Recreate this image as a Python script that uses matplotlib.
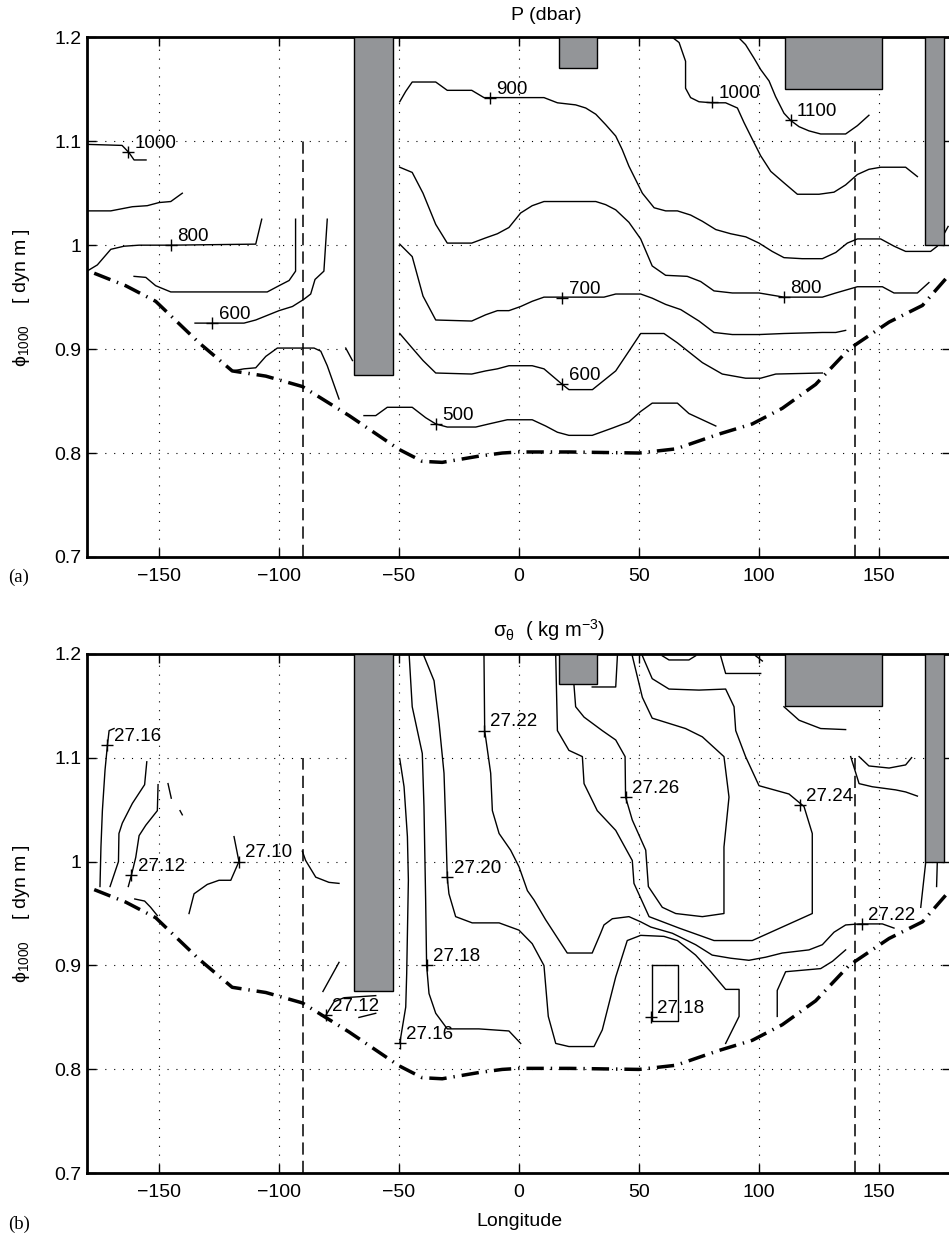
import matplotlib.pyplot as plt
from matplotlib.patches import Rectangle

plt.rcParams['font.family'] = ['Liberation Sans', 'DejaVu Sans']
plt.rcParams['mathtext.fontset'] = 'custom'
plt.rcParams['mathtext.rm'] = 'Liberation Sans'
plt.rcParams['mathtext.default'] = 'regular'

# axis ticks
lon_ticks = [-150, -100, -50, 0, 50, 100, 150]
phi_ticks = [0.7, 0.8, 0.9, 1.0, 1.1, 1.2]
phi_tick_labels = ['0.7', '0.8', '0.9', '1', '1.1', '1.2']

# land / topography boxes (lon0, lon1, bottom phi; they reach the top)
box_lon0 = [-68.7, 16.7, 110.8, 169.3]
box_lon1 = [-52.5, 32.6, 151.4, 177.0]
box_phi0 = [0.8755, 1.1705, 1.150, 1.000]

# sections (dashed verticals)
section_lon = [-90, 140]

# outcrop / lower boundary (dash-dot)
bound_lon = [-177, -163.9, -151.4, -133.3, -119.5, -105.5, -90.3, -70.8, -50, -40.3, -32,
             -16.7, -7, 0, 21, 50, 65.4, 83, 97.2, 109.7, 123.6, 137.5, 154.2, 168.1, 178.7]
bound_phi = [0.973, 0.961, 0.946, 0.906, 0.879, 0.874, 0.864, 0.836, 0.8035, 0.792, 0.791,
             0.797, 0.800, 0.801, 0.801, 0.800, 0.804, 0.818, 0.828, 0.843, 0.866, 0.900, 0.926, 0.942, 0.970]

# ---------------- panel (a): pressure contours ----------------
p1000w_lon = [-180, -165.4, -162.5, -160.4, -155.4]
p1000w_phi = [1.097, 1.096, 1.089, 1.082, 1.082]
p900w_lon = [-180, -170.1, -161.1, -154.9, -150.0, -145.1, -140.3]
p900w_phi = [1.033, 1.033, 1.037, 1.038, 1.041, 1.042, 1.050]
p800w_lon = [-180, -175.7, -170.1, -164.6, -158.3, -145.1, -109.7, -107.2]
p800w_phi = [0.975, 0.981, 0.996, 0.999, 1.000, 1.000, 1.001, 1.025]
p700w_lon = [-160.4, -155.5, -151.4, -145.1, -104.9, -100.0, -95.8, -93.1, -93.1]
p700w_phi = [0.970, 0.969, 0.961, 0.955, 0.955, 0.961, 0.966, 0.975, 1.025]
p600w_lon = [-135.0, -114.6, -109.7, -100.0, -94.4, -89.6, -86.8, -85.0, -81.3, -79.9]
p600w_phi = [0.925, 0.925, 0.928, 0.937, 0.941, 0.948, 0.953, 0.967, 0.975, 1.025]
p500w_lon = [-119.4, -114.6, -109.7, -105.5, -100.7, -85.4, -82.6, -79.9, -75.0]
p500w_phi = [0.879, 0.881, 0.882, 0.893, 0.901, 0.901, 0.898, 0.884, 0.852]
pbit_lon = [-72.2, -69.4]
pbit_phi = [0.901, 0.889]

p900_lon = [-49.7, -47.2, -44.5, -34.7, -29.9, -19.7, -14.6, 10.4, 16.0, 23.6, 27.8, 32.0, 36.1,
            40.3, 43.0, 45.8, 48.6, 51.4, 56.3, 61.1, 66.0, 71.5, 76.4, 82.0, 88.2, 94.5, 100,
            105.5, 110.4, 118.0, 126.4, 132.0, 136.8, 141.0, 150.7, 156.3, 161.1, 171.5, 174.3, 178.8]
p900_phi = [1.138, 1.148, 1.157, 1.157, 1.149, 1.149, 1.142, 1.142, 1.137, 1.135, 1.132, 1.126, 1.116,
            1.105, 1.092, 1.076, 1.063, 1.050, 1.036, 1.033, 1.033, 1.029, 1.023, 1.015, 1.011, 1.008,
            1.002, 0.994, 0.988, 0.987, 0.987, 0.993, 1.002, 1.006, 1.006, 0.999, 0.994, 0.994, 0.999, 1.018]
p1000e_lon = [63.9, 66.7, 69.4, 69.4, 71.5, 75.0, 80.5, 86.1, 91.0, 93.75, 97.2, 100.7, 104.9,
              110.4, 116.0, 125.0, 131.25, 136.1, 141.0, 145.8, 150.7, 161.1, 166.0]
p1000e_phi = [1.2, 1.195, 1.177, 1.151, 1.142, 1.138, 1.137, 1.137, 1.132, 1.118, 1.102, 1.086, 1.071,
              1.060, 1.049, 1.049, 1.051, 1.058, 1.068, 1.073, 1.075, 1.075, 1.066]
p1100e_lon = [91.4, 94.4, 97.9, 100.7, 104.2, 106.9, 110.4, 113.2, 116.7, 120.8, 125.7, 136.1, 141.0, 145.8]
p1100e_phi = [1.2, 1.193, 1.180, 1.169, 1.158, 1.143, 1.127, 1.120, 1.114, 1.110, 1.107, 1.107, 1.115, 1.125]
p800_lon = [-49.7, -44.5, -40.0, -34.7, -29.9, -19.7, -13.9, -9.0, -4.2, 0.7, 5.5, 10.4, 19.5, 32.0,
            36.1, 40.3, 45.8, 50.7, 55.5, 61.1, 70.1, 75.7, 81.25, 88.9, 100, 110.4, 126.4, 132.0,
            141.0, 151.4, 156.25, 166.0, 170.8]
p800_phi = [1.075, 1.070, 1.050, 1.020, 1.002, 1.002, 1.007, 1.011, 1.017, 1.031, 1.038, 1.042, 1.042,
            1.042, 1.039, 1.034, 1.022, 1.006, 0.980, 0.971, 0.970, 0.965, 0.956, 0.954, 0.954, 0.950,
            0.950, 0.954, 0.960, 0.960, 0.954, 0.954, 0.964]
p700_lon = [-49.7, -44.5, -40.0, -34.7, -19.7, -13.9, -9.0, -4.2, 0.7, 5.5, 10.4, 18.05, 35.4, 40.3,
            50.7, 55.5, 61.1, 67.4, 75.0, 81.25, 88.9, 100, 110.4, 126.4, 132.0, 136.1]
p700_phi = [1.001, 0.989, 0.951, 0.928, 0.927, 0.933, 0.937, 0.937, 0.941, 0.946, 0.950, 0.950, 0.950,
            0.953, 0.953, 0.949, 0.943, 0.938, 0.927, 0.916, 0.914, 0.914, 0.915, 0.916, 0.916, 0.918]
p600_lon = [-49.7, -44.5, -40.0, -34.7, -19.7, -13.9, -9.0, -4.2, 5.5, 10.4, 18.05, 20.8, 30.6, 40.3,
            45.8, 50.7, 60.4, 66.0, 76.4, 84.7, 94.4, 100.7, 107.0, 126.4]
p600_phi = [0.915, 0.901, 0.889, 0.877, 0.876, 0.879, 0.881, 0.884, 0.884, 0.881, 0.866, 0.861, 0.861,
            0.879, 0.898, 0.915, 0.915, 0.906, 0.887, 0.876, 0.872, 0.872, 0.876, 0.877]
p500_lon = [-64.6, -59.7, -54.9, -44.5, -38.9, -34.7, -29.9, -18.0, -12.5, -4.9, 5.5, 11.1, 16.0,
            20.8, 30.5, 38.9, 45.8, 50.7, 55.5, 66.0, 70.8, 82.0]
p500_phi = [0.836, 0.836, 0.844, 0.844, 0.834, 0.828, 0.825, 0.825, 0.828, 0.832, 0.832, 0.826, 0.820,
            0.817, 0.817, 0.824, 0.830, 0.840, 0.848, 0.848, 0.838, 0.826]

p_label_text = ['1000', '800', '600', '500', '900', '700', '600', '1000', '1100', '800']
p_label_lon = [-162.8, -145.1, -127.8, -34.7, -12.2, 18.05, 18.05, 80.5, 113.2, 110.4]
p_label_phi = [1.0895, 1.000, 0.925, 0.8276, 1.1417, 0.9494, 0.866, 1.1375, 1.120, 0.950]

# ---------------- panel (b): sigma-theta contours ----------------
s_a_lon = [-174.6, -174.2, -173.6, -172.5, -171.5, -170.8, -168.75]
s_a_phi = [0.976, 1.014, 1.049, 1.088, 1.112, 1.126, 1.128]
s_b_lon = [-170.4, -166.9, -166.7, -165.3, -161.1, -156.0, -155.1]
s_b_phi = [0.976, 1.000, 1.027, 1.037, 1.056, 1.074, 1.096]
s_c_lon = [-162.8, -161.5, -159.7, -158.3, -155.5, -150.7, -150.4]
s_c_phi = [0.976, 0.987, 1.004, 1.025, 1.035, 1.049, 1.074]
s_d1_lon = [-146.25, -144.9]
s_d1_phi = [1.075, 1.061]
s_d2_lon = [-141.25, -140.3]
s_d2_phi = [1.049, 1.045]
s_e_lon = [-160.1, -156.0, -153.5, -150.7]
s_e_phi = [0.964, 0.962, 0.956, 0.948]
s_f_lon = [-137.5, -135.4, -129.9, -125.0, -120.1, -116.7, -118.75]
s_f_phi = [0.950, 0.969, 0.978, 0.982, 0.982, 1.000, 1.024]
s_g_lon = [-90.3, -88.9, -84.7, -79.2, -75.0]
s_g_phi = [1.010, 1.001, 0.985, 0.980, 0.979]
s_h_lon = [-81.7, -75.0]
s_h_phi = [0.875, 0.903]
s_i_lon = [-80.5, -77.1, -72.9, -59.7]
s_i_phi = [0.852, 0.865, 0.869, 0.871]
s_j_lon = [-66.7, -59.7]
s_j_phi = [0.850, 0.854]
s_k_lon = [-49.7, -47.9, -46.5, -46.1, -46.8, -47.2, -49.7]
s_k_phi = [1.099, 1.072, 1.024, 0.982, 0.892, 0.860, 0.825]
s_l_lon = [-45.8, -44.5, -40.3, -39.6, -38.9, -38.5, -37.5, -34.7, -29.9, -16.7, -4.2, 0.7]
s_l_phi = [1.2, 1.149, 1.104, 1.053, 0.963, 0.900, 0.873, 0.854, 0.839, 0.839, 0.837, 0.825]
s_m_lon = [-40.0, -35.4, -33.3, -31.25, -30.5, -29.9, -29.2, -26.4, -19.5, -8.3, 0.0, 5.5, 10.4, 12.2,
           15.3, 20.8, 31.25, 34.7, 40.3, 45.1, 50.7, 60.4, 66.0, 73.6, 79.9, 86.1, 91.7, 91.7, 86.1]
s_m_phi = [1.2, 1.174, 1.133, 1.085, 1.033, 0.985, 0.969, 0.947, 0.941, 0.941, 0.934, 0.921, 0.900, 0.851,
           0.825, 0.822, 0.822, 0.838, 0.889, 0.924, 0.929, 0.928, 0.924, 0.910, 0.894, 0.877, 0.877, 0.851, 0.825]
s_n_lon = [-14.6, -14.3, -11.8, -11.1, -8.3, -3.5, 0.0, 3.5, 6.25, 11.1, 20.1, 30.5, 34.0, 35.4, 38.9,
           45.8, 50.7, 54.9, 63.9, 73.6, 80.5, 88.2, 95.8, 102.8, 109.7, 120.8, 126.4, 131.25, 136.1,
           141.7, 151.4, 156.25]
s_n_phi = [1.2, 1.126, 1.085, 1.049, 1.027, 1.011, 0.995, 0.972, 0.963, 0.944, 0.912, 0.912, 0.931, 0.939,
           0.945, 0.947, 0.942, 0.937, 0.931, 0.920, 0.910, 0.907, 0.905, 0.908, 0.912, 0.915, 0.920,
           0.932, 0.939, 0.940, 0.940, 0.936]
s_o_lon = [51.4, 55.5, 62.5, 75.0, 86.1, 89.6, 90.3, 94.4, 100.0, 112.5, 118.75, 122.2, 122.2, 109.7,
           97.2, 81.25, 66.7, 54.2, 47.9, 47.2, 40.3, 32.6, 27.1, 26.4, 20.8, 16.0, 15.3]
s_o_phi = [1.198, 1.176, 1.166, 1.165, 1.166, 1.149, 1.126, 1.101, 1.073, 1.065, 1.053, 1.027, 0.950,
           0.937, 0.924, 0.924, 0.936, 0.947, 0.979, 1.001, 1.030, 1.049, 1.075, 1.101, 1.107, 1.126, 1.198]
s_p_lon = [22.9, 23.6, 27.1, 34.7, 40.3, 44.2, 44.4, 47.2, 52.8, 53.9, 59.7, 65.3, 76.4, 85.4, 85.4,
           87.5, 85.4, 76.4, 69.4, 55.5, 51.4, 47.2]
s_p_phi = [1.170, 1.149, 1.139, 1.126, 1.117, 1.101, 1.062, 1.040, 1.011, 0.976, 0.956, 0.950, 0.947,
           0.950, 1.014, 1.062, 1.101, 1.120, 1.128, 1.138, 1.158, 1.198]
s_q_lon = [55.3, 66.4, 66.4, 55.3, 55.3]
s_q_phi = [0.900, 0.900, 0.847, 0.847, 0.900]
s_r_lon = [107.6, 107.6, 111.1, 125.7, 130.6, 136.1]
s_r_phi = [0.851, 0.876, 0.894, 0.897, 0.904, 0.915]
s_s_lon = [110.4, 116.7, 125.7, 136.1]
s_s_phi = [1.149, 1.136, 1.128, 1.127]
s_t_lon = [138.2, 141.7, 147.2, 156.9, 161.1, 166.0]
s_t_phi = [1.101, 1.075, 1.072, 1.069, 1.067, 1.063]
s_u_lon = [141.7, 145.8, 154.2, 161.1, 163.6]
s_u_phi = [1.101, 1.092, 1.090, 1.093, 1.100]
s_v_lon = [169.5, 167.4]
s_v_phi = [1.0, 0.956]
s_w_lon = [174.3, 174.0]
s_w_phi = [1.0, 0.976]
s_x_lon = [84.0, 86.1, 100.7]
s_x_phi = [1.198, 1.181, 1.181]
s_x2_lon = [98.6, 101.4]
s_x2_phi = [1.198, 1.193]
s_y_lon = [59.7, 62.5, 70.8, 73.6]
s_y_phi = [1.198, 1.194, 1.194, 1.198]
s_z_lon = [30.5, 40.3, 41.0]
s_z_phi = [1.168, 1.168, 1.198]

s_label_text = ['27.16', '27.12', '27.10', '27.12', '27.16', '27.18', '27.20', '27.22',
                '27.26', '27.24', '27.22', '27.18']
s_label_lon = [-171.5, -161.5, -116.7, -80.5, -49.7, -38.5, -29.9, -14.6, 44.4, 117.1, 143.0, 54.9]
s_label_phi = [1.112, 0.987, 1.000, 0.852, 0.825, 0.900, 0.985, 1.126, 1.062, 1.054, 0.940, 0.850]

p_lines = [(p1000w_lon, p1000w_phi), (p900w_lon, p900w_phi), (p800w_lon, p800w_phi),
           (p700w_lon, p700w_phi), (p600w_lon, p600w_phi), (p500w_lon, p500w_phi),
           (pbit_lon, pbit_phi), (p900_lon, p900_phi), (p1000e_lon, p1000e_phi),
           (p1100e_lon, p1100e_phi), (p800_lon, p800_phi), (p700_lon, p700_phi),
           (p600_lon, p600_phi), (p500_lon, p500_phi)]
s_lines = [(s_a_lon, s_a_phi), (s_b_lon, s_b_phi), (s_c_lon, s_c_phi), (s_d1_lon, s_d1_phi),
           (s_d2_lon, s_d2_phi), (s_e_lon, s_e_phi), (s_f_lon, s_f_phi), (s_g_lon, s_g_phi),
           (s_h_lon, s_h_phi), (s_i_lon, s_i_phi), (s_j_lon, s_j_phi), (s_k_lon, s_k_phi),
           (s_l_lon, s_l_phi), (s_m_lon, s_m_phi), (s_n_lon, s_n_phi), (s_o_lon, s_o_phi),
           (s_p_lon, s_p_phi), (s_q_lon, s_q_phi), (s_r_lon, s_r_phi), (s_s_lon, s_s_phi),
           (s_t_lon, s_t_phi), (s_u_lon, s_u_phi), (s_v_lon, s_v_phi), (s_w_lon, s_w_phi),
           (s_x_lon, s_x_phi), (s_x2_lon, s_x2_phi), (s_y_lon, s_y_phi), (s_z_lon, s_z_phi)]


def draw_panel(ax, lines, lab_text, lab_lon, lab_phi):
    ax.set_xlim(-180, 180)
    ax.set_ylim(0.7, 1.2)
    ax.set_xticks(lon_ticks)
    ax.set_yticks(phi_ticks)
    ax.set_yticklabels(phi_tick_labels)
    ax.grid(True, color='k', lw=0.8, ls=(0, (1, 7)))
    ax.set_axisbelow(True)
    ax.tick_params(direction='in', length=6.5, width=1, top=True, right=True, labelsize=14)
    ax.tick_params(axis='x', pad=8)
    ax.tick_params(axis='y', pad=4)
    for sp in ax.spines.values():
        sp.set_linewidth(2)
    for x0, x1, y0 in zip(box_lon0, box_lon1, box_phi0):
        ax.add_patch(Rectangle((x0, y0), x1 - x0, 1.2 - y0, fc='#939598', ec='k', lw=1, zorder=3))
    for x in section_lon:
        ax.plot([x, x], [0.7, 1.1], color='k', lw=1.1, ls=(0, (8, 4)), zorder=2)
    ax.plot(bound_lon, bound_phi, color='k', lw=2.5, ls=(0, (5, 2, 0.4, 2)), zorder=4)
    for lon, phi in lines:
        ax.plot(lon, phi, color='k', lw=1.0, zorder=2)
    ax.plot(lab_lon, lab_phi, '+', color='k', ms=8, mew=1, zorder=5)
    for t, x, y in zip(lab_text, lab_lon, lab_phi):
        ax.annotate(t, (x, y), xytext=(4.5, 3), textcoords='offset points',
                    fontsize=13.5, ha='left', va='baseline', zorder=5)
    ax.text(-0.0764, 0.5, r'$\phi_{1000}$    [ dyn m ]', transform=ax.transAxes,
            rotation=90, ha='center', va='center', fontsize=14)


fig = plt.figure(figsize=(9.49, 12.36), dpi=100)
ax_p = fig.add_axes([0.0917, 0.5494, 0.9104, 0.4204])
ax_s = fig.add_axes([0.0917, 0.0507, 0.9104, 0.4204])

draw_panel(ax_p, p_lines, p_label_text, p_label_lon, p_label_phi)
draw_panel(ax_s, s_lines, s_label_text, s_label_lon, s_label_phi)

fig.text(546 / 949, 1 - 16 / 1236, 'P (dbar)', ha='center', va='center', fontsize=14)
fig.text(549 / 949, 1 - 637 / 1236, r'$\sigma_\theta$  ( kg m$^{-3}$)', ha='center',
         va='baseline', fontsize=14.5)
fig.text(519 / 949, 1 - 1221 / 1236, 'Longitude', ha='center', va='center', fontsize=14)
fig.text(8 / 949, 1 - 577 / 1236, '(a)', ha='left', va='center', fontsize=13.5,
         family='Liberation Serif')
fig.text(8 / 949, 1 - 1224 / 1236, '(b)', ha='left', va='center', fontsize=13.5,
         family='Liberation Serif')

fig.savefig('out.png', dpi=100)
